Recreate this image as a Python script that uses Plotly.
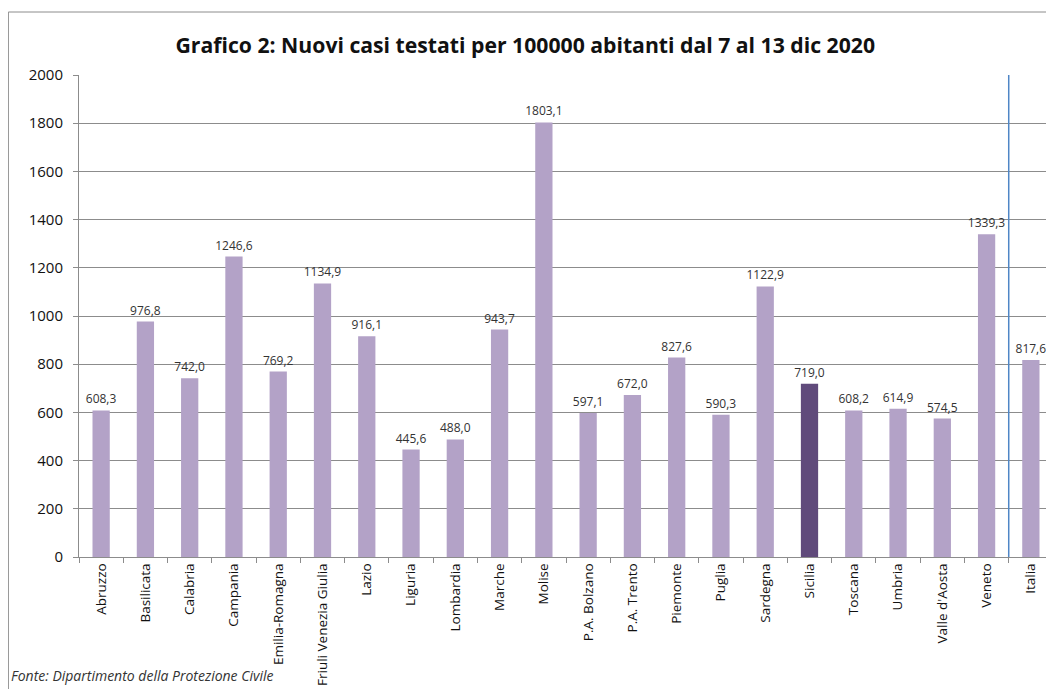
import plotly.graph_objects as go

regions = ["Abruzzo", "Basilicata", "Calabria", "Campania", "Emilia-Romagna",
           "Friuli Venezia Giulia", "Lazio", "Liguria", "Lombardia", "Marche",
           "Molise", "P.A. Bolzano", "P.A. Trento", "Piemonte", "Puglia",
           "Sardegna", "Sicilia", "Toscana", "Umbria", "Valle d'Aosta",
           "Veneto", "Italia"]
values = [608.3, 976.8, 742.0, 1246.6, 769.2, 1134.9, 916.1, 445.6, 488.0,
          943.7, 1803.1, 597.1, 672.0, 827.6, 590.3, 1122.9, 719.0, 608.2,
          614.9, 574.5, 1339.3, 817.6]
y_ticks = [0, 200, 400, 600, 800, 1000, 1200, 1400, 1600, 1800, 2000]

highlight = "Sicilia"
colors = ["#604a7b" if r == highlight else "#b3a2c7" for r in regions]
labels = [f"{v:.1f}".replace(".", ",") for v in values]

FONT = "Open Sans"

fig = go.Figure(go.Bar(
    x=regions, y=values, marker=dict(color=colors, line=dict(width=0)),
    text=labels, textposition="outside", cliponaxis=False,
    constraintext="none",
    textfont=dict(family=FONT, size=12, color="#333333"),
))

fig.update_layout(
    width=1045, height=681,
    margin=dict(l=71, r=0, t=67, b=132, autoexpand=False),
    paper_bgcolor="white", plot_bgcolor="white",
    bargap=0.61,
    showlegend=False,
    title=dict(text="<b>Grafico 2: Nuovi casi testati per 100000 abitanti dal 7 al 13 dic 2020</b>",
               x=0.495, xanchor="center", y=0.945, yanchor="middle",
               font=dict(family=FONT, size=21.2, color="#111111")),
    font=dict(family=FONT, color="#222222"),
)
fig.update_yaxes(range=[0, 2000], tickvals=y_ticks, showgrid=True,
                 gridcolor="#8c8c8c", gridwidth=1, zeroline=False,
                 showline=True, linecolor="#8c8c8c", ticks="outside",
                 ticklen=5, tickcolor="#8c8c8c", ticklabelstandoff=7,
                 automargin=False,
                 tickfont=dict(family=FONT, size=15, color="#111111"))
fig.update_xaxes(tickangle=-90, showline=True, linecolor="#8c8c8c",
                 ticks="outside", tickson="boundaries", ticklen=5,
                 tickcolor="#8c8c8c", automargin=False,
                 tickfont=dict(family=FONT, size=13.5, color="#111111"))

# vertical separator between Veneto and Italia
fig.add_shape(type="line", xref="x", yref="paper", x0=20.5, x1=20.5,
              y0=0, y1=1, line=dict(color="#4f86c6", width=1.5))

# outer frame
fig.add_shape(type="line", xref="paper", yref="paper", x0=-0.0725, x1=1.01,
              y0=1.1307, y1=1.1307, line=dict(color="#8c8c8c", width=1))
fig.add_shape(type="line", xref="paper", yref="paper", x0=-0.0725, x1=-0.0725,
              y0=1.1307, y1=-0.32, line=dict(color="#8c8c8c", width=1))

fig.add_annotation(text="<i>Fonte: Dipartimento della Protezione Civile</i>",
                   xref="paper", yref="paper", x=-0.072, y=-0.245,
                   xanchor="left", yanchor="middle", showarrow=False,
                   font=dict(family=FONT, size=14, color="#333333"))

fig.write_html("out.html")
